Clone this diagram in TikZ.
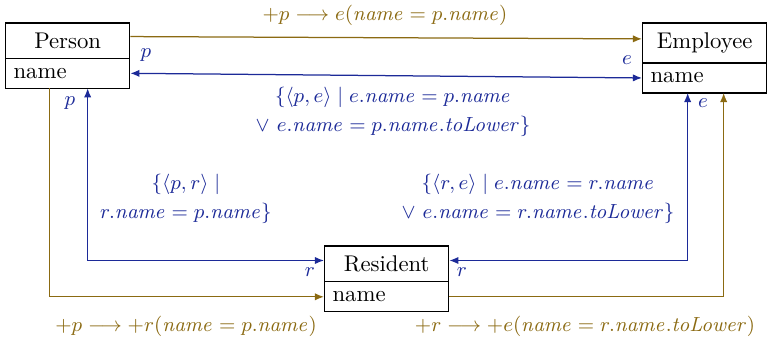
\documentclass[tikz,border=0pt]{standalone}
\usepackage{amsmath,amssymb}
\usepackage{tikz}
\usetikzlibrary{arrows.meta,positioning,calc}
\definecolor{relgold}{RGB}{139,106,18}
\definecolor{relblue}{RGB}{28,42,152}

\begin{document}
\begin{tikzpicture}[
  x=0.44pt, y=-0.44pt,
  line width=0.55pt,
  entity/.style={draw, minimum width=54.6pt, inner xsep=3.5pt, inner ysep=4.3pt, outer ysep=0pt, anchor=north west},
  attr/.style={draw, text width=47.6pt, align=left, inner xsep=3.5pt, inner ysep=4.3pt, outer ysep=0pt},
  goldline/.style={draw=relgold, ->},
  blueline/.style={draw=relblue, <->},
  goldlabel/.style={text=relgold, align=center, font=\fontsize{9.2pt}{12.8pt}\selectfont},
  bluelabel/.style={text=relblue, align=center, font=\fontsize{9.2pt}{12.8pt}\selectfont},
  >={Latex[length=4pt,width=3.2pt]}
]
\useasboundingbox (0,0) rectangle (767,340);

% entities
\node[entity] (person) at (5,23) {Person};
\node[attr, below=0pt of person] (personattr) {name};
\node[entity] (employee) at (642,23) {Employee};
\node[attr, below=0pt of employee] (employeeattr) {name};
\node[entity] (resident) at (324,246) {Resident};
\node[attr, below=0pt of resident] (residentattr) {name};

% data migration (gold)
\draw[goldline] ([yshift=1.8pt]person.east) -- ([yshift=1.8pt]employee.west);
\draw[goldline] ($(personattr.south)+(-18,0)$) |- (residentattr.west);
\draw[goldline] (residentattr.east) -| ($(employeeattr.south)+(19,0)$);

% correspondences (blue)
\draw[blueline] (personattr.east) -- (employeeattr.west);
\draw[blueline] ([yshift=1.5pt]resident.west) -| ($(personattr.south)+(20,0)$);
\draw[blueline] ([yshift=1.5pt]resident.east) -| ($(employeeattr.south)+(-17,0)$);

% labels
\node[goldlabel] (pelabel) at (385,15) {$+p \longrightarrow e(\mathit{name} = p.\mathit{name})$};
\node[goldlabel] (prlabel) at (186,326) {$+p \longrightarrow +r(\mathit{name} = p.\mathit{name})$};
\node[goldlabel] (relabel) at (585,326) {$+r \longrightarrow +e(\mathit{name} = r.\mathit{name}.\mathit{toLower})$};

\node[bluelabel] (pecorr) at (393,112) {$\{\langle p,e\rangle \mid e.\mathit{name} = p.\mathit{name}$\\$\vee\ e.\mathit{name} = p.\mathit{name}.\mathit{toLower}\}$};
\node[bluelabel] (prcorr) at (186,199) {$\{\langle p,r\rangle \mid$\\$r.\mathit{name} = p.\mathit{name}\}$};
\node[bluelabel] (recorr) at (538,199) {$\{\langle r,e\rangle \mid e.\mathit{name} = r.\mathit{name}$\\$\vee\ e.\mathit{name} = r.\mathit{name}.\mathit{toLower}\}$};

\node[bluelabel] (pend1) at (146,55) {$p$};
\node[bluelabel] (eend1) at (627,60) {$e$};
\node[bluelabel] (pend2) at (70,103) {$p$};
\node[bluelabel] (eend2) at (703,103) {$e$};
\node[bluelabel] (rend1) at (310,272) {$r$};
\node[bluelabel] (rend2) at (462,272) {$r$};
\end{tikzpicture}
\end{document}
